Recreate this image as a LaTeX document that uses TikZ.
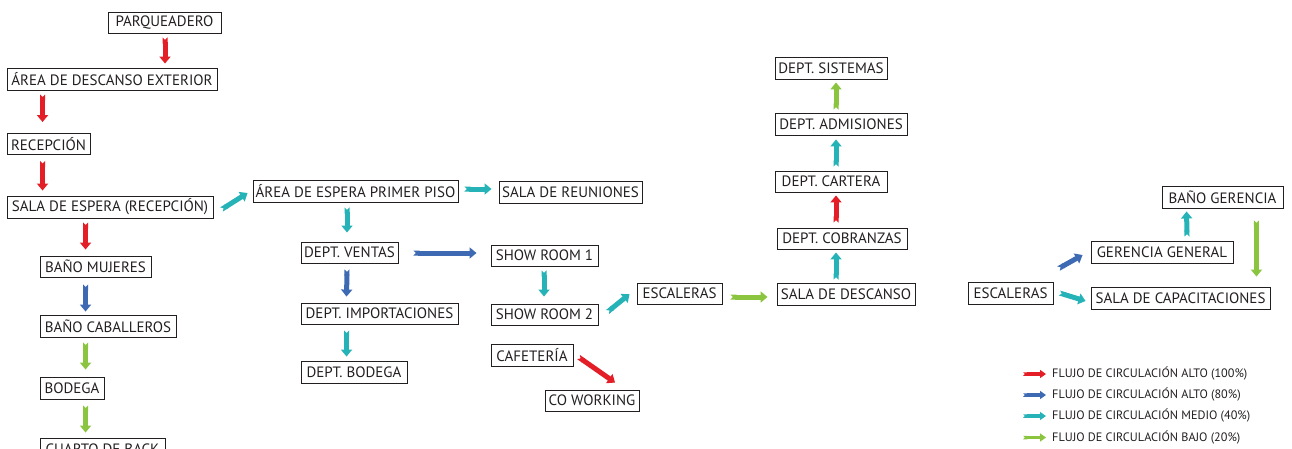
\documentclass[tikz,border=0pt]{standalone}
\usepackage{fontspec}
\setmainfont{PT Sans}
\usetikzlibrary{arrows.meta}
\definecolor{fred}{HTML}{E31E26}
\definecolor{fblue}{HTML}{3D6AB3}
\definecolor{fcyan}{HTML}{26B3B8}
\definecolor{fgreen}{HTML}{8BC43F}
\definecolor{ink}{HTML}{231F20}
\tikzset{
  bx/.style={draw=ink, line width=0.9pt, inner sep=0pt, minimum height=22pt, text=ink, font=\fontsize{15}{17}\selectfont},
  flow/.style={line width=5pt, {Triangle Cap[reversed]}-{Triangle[length=7pt,width=11pt]}},
  fr/.style={flow, draw=fred},
  fb/.style={flow, draw=fblue},
  fc/.style={flow, draw=fcyan},
  fg/.style={flow, draw=fgreen},
  lg/.style={line width=3.5pt, {Triangle Cap[reversed]}-{Triangle[length=6pt,width=8pt]}},
  lt/.style={anchor=west, inner sep=0pt, text=ink, font=\fontsize{12.2}{14}\selectfont},
}
\begin{document}
\begin{tikzpicture}[x=1pt,y=-1pt]
\useasboundingbox (0,0) rectangle (1292,448);
% left column
\node[bx, minimum width=113pt, minimum height=21pt] (parq) at (164.5,22.5) {PARQUEADERO};
\node[bx, minimum width=210pt] (area) at (112,79) {ÁREA DE DESCANSO EXTERIOR};
\node[bx, minimum width=83pt, minimum height=21pt] (rec) at (48.5,144) {RECEPCIÓN};
\node[bx, minimum width=206pt] (sala) at (110,207) {SALA DE ESPERA (RECEPCIÓN)};
\node[bx, minimum width=111pt, minimum height=21pt] (banm) at (95.5,266.5) {BAÑO MUJERES};
\node[bx, minimum width=136pt] (banc) at (108,326) {BAÑO CABALLEROS};
\node[bx, minimum width=64pt] (bod) at (72,388) {BODEGA};
\node[bx, minimum width=125pt] (cuarto) at (102.5,449) {CUARTO DE BACK};
% middle
\node[bx, minimum width=205pt] (aep) at (355.5,191) {ÁREA DE ESPERA PRIMER PISO};
\node[bx, minimum width=143pt] (reun) at (570.5,192) {SALA DE REUNIONES};
\node[bx, minimum width=97pt, minimum height=21pt] (ventas) at (349.5,252.5) {DEPT. VENTAS};
\node[bx, minimum width=157pt, minimum height=21pt] (impo) at (379.5,313.5) {DEPT. IMPORTACIONES};
\node[bx, minimum width=106pt] (dbod) at (354,372) {DEPT. BODEGA};
\node[bx, minimum width=107pt, minimum height=21pt] (sr1) at (544.5,255.5) {SHOW ROOM 1};
\node[bx, minimum width=107pt, minimum height=21pt] (sr2) at (544.5,314.5) {SHOW ROOM 2};
\node[bx, minimum width=82pt] (caf) at (532,355) {CAFETERÍA};
\node[bx, minimum width=94pt, minimum height=21pt] (cow) at (592,400.5) {CO WORKING};
% right middle
\node[bx, minimum width=85pt, minimum height=21pt] (esc1) at (679.5,293.5) {ESCALERAS};
\node[bx, minimum width=138pt] (sdes) at (846,294) {SALA DE DESCANSO};
\node[bx, minimum width=130pt, minimum height=21pt] (cob) at (842,238.5) {DEPT. COBRANZAS};
\node[bx, minimum width=112pt, minimum height=21pt] (cart) at (831,181.5) {DEPT. CARTERA};
\node[bx, minimum width=132pt] (adm) at (841,124) {DEPT. ADMISIONES};
\node[bx, minimum width=112pt] (sis) at (831,68) {DEPT. SISTEMAS};
% right
\node[bx, minimum width=85pt] (esc2) at (1010.5,293) {ESCALERAS};
\node[bx, minimum width=142pt] (ger) at (1162,252) {GERENCIA GENERAL};
\node[bx, minimum width=179pt] (cap) at (1180.5,298) {SALA DE CAPACITACIONES};
\node[bx, minimum width=121pt] (bger) at (1222.5,197) {BAÑO GERENCIA};
% arrows left
\draw[fr] ([shift={(0.5,4)}]parq.south) -- ([shift={(53,-4)}]area.north);
\draw[fr] ([shift={(36,4)}]area.south west) -- ([shift={(36,-11)}]rec.north west);
\draw[fr] ([shift={(36,6)}]rec.south west) -- ([shift={(36,-5)}]sala.north west);
\draw[fr] ([shift={(79,4)}]sala.south west) -- ([shift={(46,-6)}]banm.north west);
\draw[fb] ([shift={(46,7)}]banm.south west) -- ([shift={(46,-3)}]banc.north west);
\draw[fg] ([shift={(46,5)}]banc.south west) -- ([shift={(46,-7)}]bod.north west);
\draw[fg] ([shift={(46,6)}]bod.south west) -- ([shift={(46,-5)}]cuarto.north west);
% arrows middle
\draw[fc] ([shift={(8,2.5)}]sala.east) -- ([shift={(-5,2)}]aep.west);
\draw[fc] ([shift={(6,-2)}]aep.east) -- ([shift={(-7,-3)}]reun.west);
\draw[fc] ([shift={(-8.5,5)}]aep.south) -- ([shift={(-2.5,-9)}]ventas.north);
\draw[fb] ([shift={(15,0.5)}]ventas.east) -- ([shift={(-14,-2.5)}]sr1.west);
\draw[fb] ([shift={(-2.5,6)}]ventas.south) -- ([shift={(46,-6)}]impo.north west);
\draw[fc] ([shift={(46,6)}]impo.south west) -- ([shift={(46,-4)}]dbod.north west);
\draw[fc] ([shift={(-0.5,4)}]sr1.south) -- ([shift={(-0.5,-7)}]sr2.north);
\draw[fc] ([shift={(9,-2.5)}]sr2.east) -- ([shift={(-7,0.5)}]esc1.west);
\draw[fr] ([shift={(5,2)}]caf.east) -- ([shift={(23,-7)}]cow.north);
% arrows right middle
\draw[fg] ([shift={(8,3.5)}]esc1.east) -- ([shift={(-9,3)}]sdes.west);
\draw[fc] ([shift={(-10,-3)}]sdes.north) -- ([shift={(-6,3)}]cob.south);
\draw[fr] ([shift={(-6,-5)}]cob.north) -- ([shift={(5,3)}]cart.south);
\draw[fc] ([shift={(5,-4)}]cart.north) -- ([shift={(-5,4)}]adm.south);
\draw[fg] ([shift={(-5,-3)}]adm.north) -- ([shift={(5,3)}]sis.south);
% arrows right
\draw[fb] ([shift={(5,-13)}]esc2.north east) -- ([shift={(-8,3)}]ger.west);
\draw[fc] ([shift={(6,0)}]esc2.east) -- ([shift={(-5,3)}]cap.west);
\draw[fc] ([shift={(25,-4)}]ger.north) -- ([shift={(25,3)}]bger.south west);
\draw[fg] ([shift={(-27,12)}]bger.south east) -- ([shift={(-14,-10)}]cap.north east);
% legend
\node[lt] (l1) at (1052,374) {FLUJO DE CIRCULACIÓN ALTO (100\%)};
\node[lt] (l2) at (1052,395) {FLUJO DE CIRCULACIÓN ALTO (80\%)};
\node[lt] (l3) at (1052,416) {FLUJO DE CIRCULACIÓN MEDIO (40\%)};
\node[lt] (l4) at (1052,437.5) {FLUJO DE CIRCULACIÓN BAJO (20\%)};
\draw[lg, draw=fred] ([xshift=-29pt]l1.west) -- ([xshift=-6pt]l1.west);
\draw[lg, draw=fblue] ([xshift=-29pt]l2.west) -- ([xshift=-6pt]l2.west);
\draw[lg, draw=fcyan] ([xshift=-29pt]l3.west) -- ([xshift=-6pt]l3.west);
\draw[lg, draw=fgreen] ([xshift=-29pt]l4.west) -- ([xshift=-6pt]l4.west);
\end{tikzpicture}
\end{document}
